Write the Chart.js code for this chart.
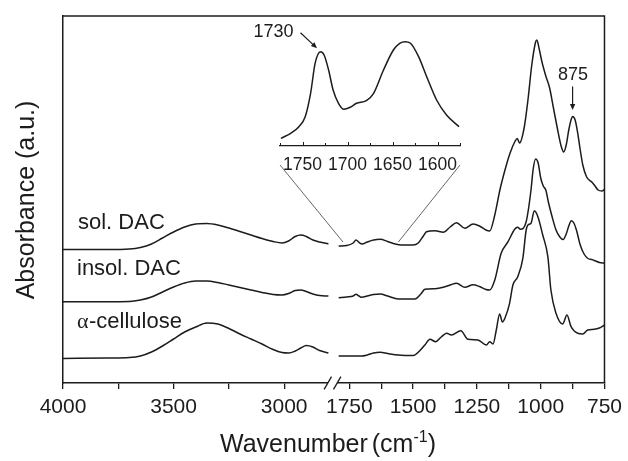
<!DOCTYPE html>
<html>
<head>
<meta charset="utf-8">
<script src="https://cdn.jsdelivr.net/npm/chart.js@4.4.1/dist/chart.umd.min.js"></script>
<style>
  body { margin: 0; background: #fff; }
  #wrap { position: relative; width: 628px; height: 461px; }
  #main, #inset { position: absolute; }
  #main { left: 0; top: 0; }
</style>
</head>
<body>
<div id="wrap">
  <canvas id="main" width="628" height="461"></canvas>
  <canvas id="inset" width="200" height="145"></canvas>
</div>
<script>
const INK = '#1c1c1c';
const SANS = '"Liberation Sans", Arial, sans-serif';
const SERIF = '"Liberation Serif", "Times New Roman", serif';
const INSET_LEFT = 270, INSET_TOP = 30;

// broken wavenumber axis: 4000-2800 and 1800-750 cm-1 packed onto one linear scale
const HIGH_START = 4000, HIGH_END = 2800, LOW_START = 1800, LOW_END = 750;
const HIGH_RATE = 0.2222, LOW_RATE = 0.2563; // axis units per cm-1
const AXIS_LEN = 544;
function axisPos(w) {
  return w > 2300 ? (HIGH_START - w) * HIGH_RATE : AXIS_LEN - (w - LOW_END) * LOW_RATE;
}

const tickWaves = [4000, 3750, 3500, 3250, 3000, 1750, 1625, 1500, 1375, 1250, 1125, 1000, 875, 750];
const tickLabels = ['4000', '', '3500', '', '3000', '1750', '', '1500', '', '1250', '', '1000', '', '750'];

// 4000-2800 cm-1 (shared grid)
const waveHigh = [4000, 3800, 3700, 3650, 3600, 3550, 3500, 3450, 3400, 3350, 3300, 3250, 3200, 3150, 3100, 3050, 3010, 2980, 2950, 2925, 2900, 2870, 2840, 2800];
const solHigh = [133.5, 133.5, 134, 135.5, 139, 145, 151, 156, 159, 159.5, 158, 155, 151.5, 148, 144.5, 141.5, 140, 142, 146.5, 148, 146.5, 143, 141, 139];
const insolHigh = [81.3, 81.3, 81.5, 83, 86, 91, 96, 100, 102, 102, 100.5, 98, 95.5, 93, 90.5, 88.5, 88, 89.5, 92.5, 93, 91.5, 89, 87.5, 87];
const celHigh = [24.5, 25, 25.5, 27, 31, 37, 44, 51, 56, 60, 59, 54.5, 49, 44, 39, 33.5, 30.5, 30, 32, 35, 37.5, 36, 32.5, 30];

// 1800-750 cm-1
const solWaveLow = [1792, 1760, 1735, 1724, 1712, 1700, 1680, 1655, 1629, 1600, 1570, 1546, 1500, 1480, 1460, 1448, 1414, 1382, 1355, 1330, 1297, 1265, 1240, 1215, 1200, 1180, 1160, 1140, 1120, 1100, 1092, 1083, 1065, 1050, 1035, 1020, 1015, 1005, 995, 980, 965, 950, 935, 920, 910, 900, 890, 880, 875, 865, 855, 845, 835, 820, 800, 790, 775, 760, 750];
const solLow = [137, 137.5, 140, 143, 140.5, 139, 141, 143, 143.7, 141.5, 139, 138, 138, 140, 147, 151.3, 152.3, 150.7, 156, 160.3, 154.7, 159, 157, 153, 152, 168, 193, 213, 230, 242, 244.5, 240, 255, 283, 318, 341, 343, 333, 321, 307, 295, 275, 255, 237, 231, 238, 253, 264, 266.5, 263, 250, 233, 218, 206, 201, 198, 193, 192, 193.5];

const insolWaveLow = [1792, 1760, 1735, 1724, 1712, 1702, 1680, 1655, 1629, 1600, 1558, 1493, 1470, 1454, 1414, 1382, 1355, 1330, 1297, 1265, 1240, 1215, 1200, 1180, 1155, 1128, 1102, 1090, 1080, 1057, 1038, 1030, 1020, 1010, 1000, 990, 980, 970, 955, 940, 925, 912, 900, 890, 880, 870, 860, 845, 830, 815, 800, 785, 770, 750];
const insolLow = [85.3, 86, 87, 88.7, 87, 85.7, 87, 88.5, 89, 87, 84, 84, 89, 93.7, 94.3, 95.7, 98, 99.7, 95.7, 98.3, 96.5, 93.5, 93, 103, 129.7, 141.3, 153.7, 155.7, 153.7, 161.3, 193, 213, 224, 220, 205, 197, 193, 181, 166, 153, 146, 143.5, 149, 157, 162.3, 160, 153, 138, 129, 124.5, 123.5, 122, 120.5, 120];

const celWaveLow = [1792, 1760, 1702, 1680, 1655, 1629, 1600, 1558, 1499, 1475, 1454, 1434, 1412, 1390, 1369, 1350, 1313, 1285, 1246, 1213, 1200, 1187, 1174, 1161, 1150, 1140, 1122, 1109, 1090, 1070, 1057, 1050, 1038, 1025, 1011, 992, 972, 960, 940, 914, 897, 881, 855, 835, 816, 790, 770, 750];
const celLow = [27, 27, 27, 28, 30, 30.7, 29.5, 28, 27.5, 32, 38, 43.7, 41.3, 46, 49.7, 48, 52.3, 43.7, 43, 38, 41.3, 39, 53, 69, 61, 65, 79.7, 98, 106.3, 124.7, 153, 158, 159.7, 172.3, 166.3, 148, 126.3, 93, 69.7, 59, 68, 56.3, 49.7, 49, 53, 53.7, 55, 58];

// carbonyl region of sol. DAC, enlarged
const insetWave = [1774, 1763, 1754, 1747, 1741, 1736, 1730, 1726, 1721, 1716, 1710, 1704, 1697, 1690, 1679, 1671, 1660, 1649, 1642, 1636, 1630, 1621, 1612, 1601, 1590, 1576];
const insetAbs = [7.7, 12.7, 19.3, 29.3, 52.7, 82.7, 94.3, 91, 76, 56, 42.7, 36.7, 38.7, 42.7, 45.3, 52.7, 76, 96, 102.7, 104.3, 102.7, 89.3, 69.3, 46, 31, 19.3];
const insetTicks = [1775, 1750, 1725, 1700, 1675, 1650, 1625, 1600, 1575];
const insetTickLabels = ['', '1750', '', '1700', '', '1650', '', '1600', ''];

const pts = (ws, vs) => ws.map((w, i) => ({ x: axisPos(w), y: vs[i] }));
const trace = data => ({
  data, borderColor: INK, borderWidth: 1.5, pointRadius: 0,
  cubicInterpolationMode: 'monotone', fill: false
});

function arrow(ctx, x0, y0, x1, y1) {
  const ang = Math.atan2(y1 - y0, x1 - x0), head = 6.5, spread = 0.42;
  ctx.beginPath();
  ctx.moveTo(x0, y0);
  ctx.lineTo(x1 - head * 0.7 * Math.cos(ang), y1 - head * 0.7 * Math.sin(ang));
  ctx.stroke();
  ctx.beginPath();
  ctx.moveTo(x1, y1);
  ctx.lineTo(x1 - head * Math.cos(ang - spread), y1 - head * Math.sin(ang - spread));
  ctx.lineTo(x1 - head * Math.cos(ang + spread), y1 - head * Math.sin(ang + spread));
  ctx.closePath();
  ctx.fill();
}

// inward tick marks on the inset axis
const insetTickMarks = {
  id: 'insetTickMarks',
  afterDraw(chart) {
    const { ctx, chartArea: a, scales: { x } } = chart;
    ctx.save();
    ctx.strokeStyle = INK;
    ctx.lineWidth = 1;
    x.ticks.forEach((t, i) => {
      const px = Math.round(x.getPixelForValue(t.value)) + 0.5;
      const len = insetTickLabels[i] ? 4 : 3;
      ctx.beginPath();
      ctx.moveTo(px, a.bottom);
      ctx.lineTo(px, a.bottom - len);
      ctx.stroke();
    });
    ctx.restore();
  }
};

const insetCanvas = document.getElementById('inset');
insetCanvas.style.left = INSET_LEFT + 'px';
insetCanvas.style.top = INSET_TOP + 'px';

const insetChart = new Chart(insetCanvas, {
  type: 'line',
  data: { datasets: [trace(insetWave.map((w, i) => ({ x: w, y: insetAbs[i] })))] },
  options: {
    responsive: false, animation: false, devicePixelRatio: 1,
    layout: { padding: { left: 10, right: 10, top: 10, bottom: 0 } },
    plugins: { legend: { display: false }, tooltip: { enabled: false } },
    scales: {
      x: {
        type: 'linear', reverse: true, min: 1575, max: 1775,
        afterBuildTicks: ax => { ax.ticks = insetTicks.map(v => ({ value: v })); },
        afterFit: ax => { ax.height = 29; },
        grid: { display: false },
        border: { display: true, color: INK, width: 1.2 },
        ticks: {
          autoSkip: false, maxRotation: 0, padding: 1, color: INK,
          font: { family: SANS, size: 17.5 },
          callback: (v, i) => insetTickLabels[i]
        }
      },
      y: { display: false, min: 0, max: 106 }
    }
  },
  plugins: [insetTickMarks]
});

const notes = {
  id: 'notes',
  afterDraw(chart) {
    const { ctx, chartArea: a, scales: { x, y } } = chart;
    ctx.save();
    ctx.strokeStyle = INK;
    ctx.fillStyle = INK;

    // close the frame
    ctx.lineWidth = 1.5;
    ctx.beginPath();
    ctx.moveTo(a.left, a.top);
    ctx.lineTo(a.right, a.top);
    ctx.lineTo(a.right, a.bottom);
    ctx.stroke();

    // axis break marks
    const bx = x.getPixelForValue((axisPos(HIGH_END) + axisPos(LOW_START)) / 2);
    ctx.fillStyle = '#fff';
    ctx.fillRect(bx - 4.5, a.bottom - 2, 9, 4);
    ctx.fillStyle = INK;
    ctx.lineWidth = 1.3;
    [-4.7, 4.7].forEach(dx => {
      ctx.beginPath();
      ctx.moveTo(bx + dx - 3.7, a.bottom + 6.3);
      ctx.lineTo(bx + dx + 3.7, a.bottom - 6.3);
      ctx.stroke();
    });

    // guide lines from the inset axis down to the sol. DAC trace
    const ix = insetChart.scales.x, ia = insetChart.chartArea;
    const fromWave = [1775, 1575], toWave = [1775, 1558];
    ctx.strokeStyle = '#555';
    ctx.lineWidth = 0.9;
    fromWave.forEach((w, k) => {
      ctx.beginPath();
      ctx.moveTo(INSET_LEFT + ix.getPixelForValue(w), INSET_TOP + ia.bottom + 19);
      ctx.lineTo(x.getPixelForValue(axisPos(toWave[k])), y.getPixelForValue(141));
      ctx.stroke();
    });

    // peak annotations
    ctx.strokeStyle = INK;
    ctx.lineWidth = 1.2;
    ctx.font = '18px ' + SANS;
    ctx.textBaseline = 'middle';
    const pkX = INSET_LEFT + ix.getPixelForValue(1730);
    const pkY = INSET_TOP + insetChart.scales.y.getPixelForValue(insetAbs[insetWave.indexOf(1730)]);
    arrow(ctx, pkX - 20, pkY - 19, pkX - 3.5, pkY - 3.5);
    ctx.textAlign = 'right';
    ctx.fillText('1730', pkX - 27, pkY - 20);

    const p875 = x.getPixelForValue(axisPos(875));
    const y875 = y.getPixelForValue(solLow[solWaveLow.indexOf(875)]);
    arrow(ctx, p875, y875 - 30, p875, y875 - 6.5);
    ctx.textAlign = 'center';
    ctx.fillText('875', p875 + 0.5, y875 - 41.5);

    // sample names
    ctx.textAlign = 'left';
    ctx.textBaseline = 'alphabetic';
    ctx.font = '22px ' + SANS;
    ctx.fillText('sol. DAC', 78, 229);
    ctx.fillText('insol. DAC', 77, 275);
    ctx.font = '22px ' + SERIF;
    ctx.fillText('\u03b1', 77, 328);
    const aw = ctx.measureText('\u03b1').width;
    ctx.font = '22px ' + SANS;
    ctx.fillText('-cellulose', 77 + aw + 0.5, 328);

    // axis titles
    ctx.font = '25px ' + SANS;
    ctx.save();
    ctx.translate(27, 200);
    ctx.rotate(-Math.PI / 2);
    ctx.textAlign = 'center';
    ctx.textBaseline = 'middle';
    ctx.fillText('Absorbance (a.u.)', 0, 0);
    ctx.restore();

    const base = 452;
    const w1 = ctx.measureText('Wavenumber').width;
    const w2 = ctx.measureText('(cm').width;
    const w4 = ctx.measureText(')').width;
    ctx.font = '16px ' + SANS;
    const w3 = ctx.measureText('-1').width;
    const gap = 4;
    let tx = 328 - (w1 + gap + w2 + w3 + w4) / 2;
    ctx.font = '25px ' + SANS;
    ctx.fillText('Wavenumber', tx, base);
    tx += w1 + gap;
    ctx.fillText('(cm', tx, base);
    tx += w2;
    ctx.font = '16px ' + SANS;
    ctx.fillText('-1', tx, base - 10);
    tx += w3;
    ctx.font = '25px ' + SANS;
    ctx.fillText(')', tx, base);
    ctx.restore();
  }
};

new Chart(document.getElementById('main'), {
  type: 'line',
  data: {
    datasets: [
      trace(pts(waveHigh, solHigh)),
      trace(pts(solWaveLow, solLow)),
      trace(pts(waveHigh, insolHigh)),
      trace(pts(insolWaveLow, insolLow)),
      trace(pts(waveHigh, celHigh)),
      trace(pts(celWaveLow, celLow))
    ]
  },
  options: {
    responsive: false, animation: false, devicePixelRatio: 1,
    layout: { padding: { left: 0, top: 16, right: 21, bottom: 0 } },
    plugins: { legend: { display: false }, tooltip: { enabled: false } },
    scales: {
      x: {
        type: 'linear', min: 0, max: AXIS_LEN,
        afterBuildTicks: ax => { ax.ticks = tickWaves.map(w => ({ value: axisPos(w) })); },
        afterFit: ax => { ax.height = 78; },
        grid: { display: true, drawOnChartArea: false, drawTicks: true, tickLength: 6, color: INK, lineWidth: 1.3 },
        border: { display: true, color: INK, width: 1.5 },
        ticks: {
          autoSkip: false, maxRotation: 0, padding: 6, color: INK,
          font: { family: SANS, size: 21 },
          callback: (v, i) => tickLabels[i]
        }
      },
      y: {
        min: 0, max: 367,
        afterFit: ax => { ax.width = 63; },
        ticks: { display: false },
        grid: { display: false },
        border: { display: true, color: INK, width: 1.5 }
      }
    }
  },
  plugins: [notes]
});
</script>
</body>
</html>
